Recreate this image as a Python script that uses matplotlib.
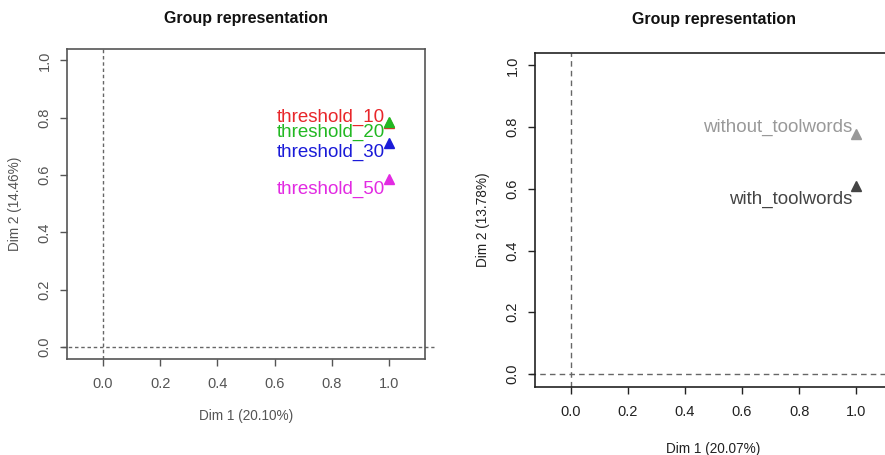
import matplotlib
matplotlib.use("Agg")
import matplotlib.pyplot as plt

plt.rcParams['font.family'] = ['Liberation Sans', 'DejaVu Sans']

# left panel: thresholds
thr_names = ["threshold_10", "threshold_20", "threshold_30", "threshold_50"]
thr_x = [1.0, 1.0, 1.0, 1.0]
thr_y = [0.78, 0.785, 0.712, 0.585]
thr_colors = ["#e8262a", "#22b822", "#1a1ad8", "#e22ae2"]
thr_lab_y = [0.80, 0.75, 0.68, 0.55]   # where R's autoLab put the labels
thr_xlabel = "Dim 1 (20.10%)"
thr_ylabel = "Dim 2 (14.46%)"

# right panel: tool words
tw_names = ["without_toolwords", "with_toolwords"]
tw_x = [1.0, 1.0]
tw_y = [0.777, 0.608]
tw_colors = ["#999999", "#444444"]
tw_lab_y = [0.80, 0.567]
tw_xlabel = "Dim 1 (20.07%)"
tw_ylabel = "Dim 2 (13.78%)"

ticks = [0.0, 0.2, 0.4, 0.6, 0.8, 1.0]
tick_labels = ["0.0", "0.2", "0.4", "0.6", "0.8", "1.0"]

fig = plt.figure(figsize=(8.85, 4.55), dpi=100)
ax1 = fig.add_axes([67/885, 1-359/455, 358/885, 310/455])
ax2 = fig.add_axes([535/885, 1-387/455, 357/885, 334/455])


def draw(ax, names, xs, ys, cols, lab_ys, xlab, ylab, ink, dash):
    ax.set_xlim(-0.125, 1.125)
    ax.set_ylim(-0.042, 1.04)
    # R's abline runs a little past the box
    ax.plot([-0.142, 1.155], [0, 0], color="#666666", lw=1, ls=dash, zorder=1, clip_on=False)
    ax.axvline(0, color="#666666", lw=1, ls=dash, zorder=1)
    for n, x, y, c, ly in zip(names, xs, ys, cols, lab_ys):
        ax.plot([x], [y], marker="^", ms=7, color=c, ls="none", zorder=3)
        ax.text(x - 0.015, ly, n, color=c, fontsize=13.5, ha="right", va="center")
    ax.set_xticks(ticks)
    ax.set_xticklabels(tick_labels)
    ax.set_yticks(ticks)
    ax.set_yticklabels(tick_labels, rotation=90, va="center")
    ax.tick_params(direction="out", length=5, width=1, color=ink, labelcolor=ink,
                   labelsize=10.5)
    ax.tick_params(axis="x", pad=8)
    ax.tick_params(axis="y", pad=6)
    for s in ax.spines.values():
        s.set_color(ink)
        s.set_linewidth(1.2)
    ax.text(0.5, 1.10, "Group representation", transform=ax.transAxes,
            ha="center", va="center", fontsize=11.5, fontweight="bold", color="#111111")
    ax.text(0.5, -0.185, xlab, transform=ax.transAxes, ha="center", va="center",
            fontsize=9.8, color=ink)
    ax.text(-0.145, 0.5, ylab, transform=ax.transAxes, ha="center", va="center",
            rotation=90, fontsize=9.8, color=ink)


draw(ax1, thr_names, thr_x, thr_y, thr_colors, thr_lab_y, thr_xlabel, thr_ylabel,
     "#555555", (0, (2.5, 2)))
draw(ax2, tw_names, tw_x, tw_y, tw_colors, tw_lab_y, tw_xlabel, tw_ylabel,
     "#222222", (0, (4, 3)))

fig.savefig("out.png", dpi=100)
